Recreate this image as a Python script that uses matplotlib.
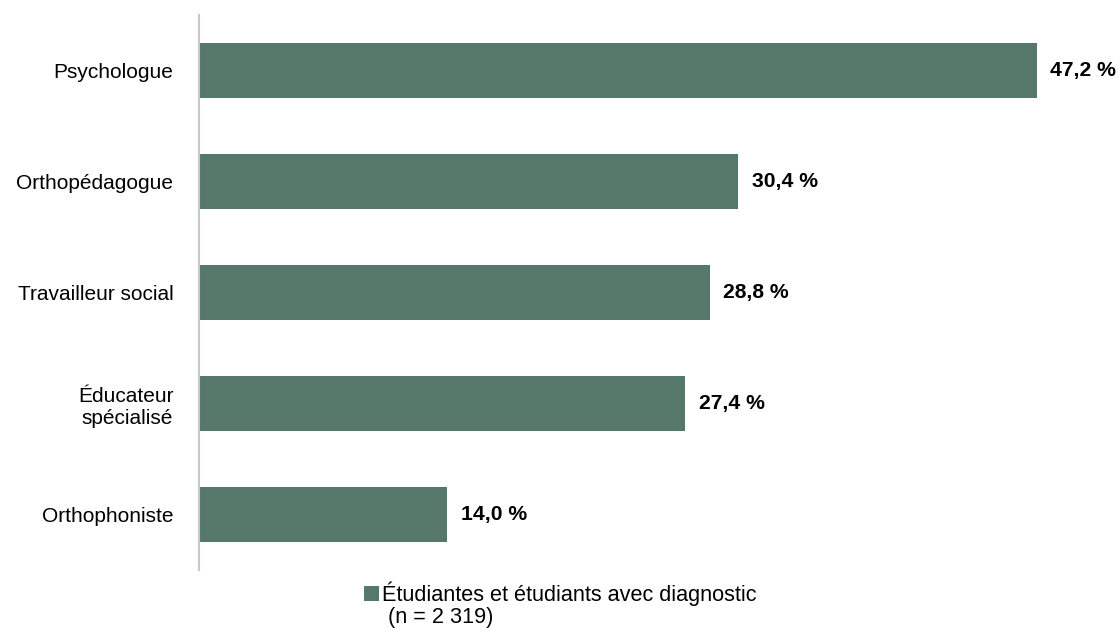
import matplotlib
matplotlib.use('Agg')
import matplotlib.pyplot as plt

categories = ['Psychologue', 'Orthopédagogue', 'Travailleur social',
              'Éducateur\nspécialisé', 'Orthophoniste']
values = [47.2, 30.4, 28.8, 27.4, 14.0]
value_labels = ['47,2 %', '30,4 %', '28,8 %', '27,4 %', '14,0 %']
series_label = 'Étudiantes et étudiants avec diagnostic'
series_note = '(n = 2 319)'

plt.rcParams['font.family'] = ['Liberation Sans', 'DejaVu Sans']

bar_color = '#56786b'
fs = 15

fig = plt.figure(figsize=(11.2, 6.31), dpi=100)
ax = fig.add_axes([199 / 1120, 1 - 570 / 631, 1 - 199 / 1120, (570 - 15) / 631])

y = range(len(categories))
bars = ax.barh(y, values, height=0.5, color=bar_color, label=series_label)

for yi, v, lab in zip(y, values, value_labels):
    ax.text(v + 0.75, yi, lab, va='center', ha='left',
            fontsize=15.2, fontweight='bold', color='#000000')

ax.set_yticks(list(y))
ax.set_yticklabels(categories, fontsize=fs)
ax.set_ylim(4.5, -0.5)
ax.set_xlim(0, 51.9)
ax.tick_params(axis='y', length=0, pad=18.5)
ax.set_xticks([])
for s in ['top', 'right', 'bottom']:
    ax.spines[s].set_visible(False)
ax.spines['left'].set_color('#c8c8c8')
ax.spines['left'].set_linewidth(1.5)

fig.legend(handles=[bars], labels=[series_label], loc='center left',
           bbox_to_anchor=(364 / 1120, 1 - 594 / 631), frameon=False,
           fontsize=15.6, handlelength=0.7, handleheight=0.7, handletextpad=0.15,
           borderaxespad=0, borderpad=0)
fig.text(388 / 1120, 1 - 617 / 631, series_note, fontsize=15.6,
         ha='left', va='center')

fig.savefig('out.png', dpi=100, facecolor='white')
